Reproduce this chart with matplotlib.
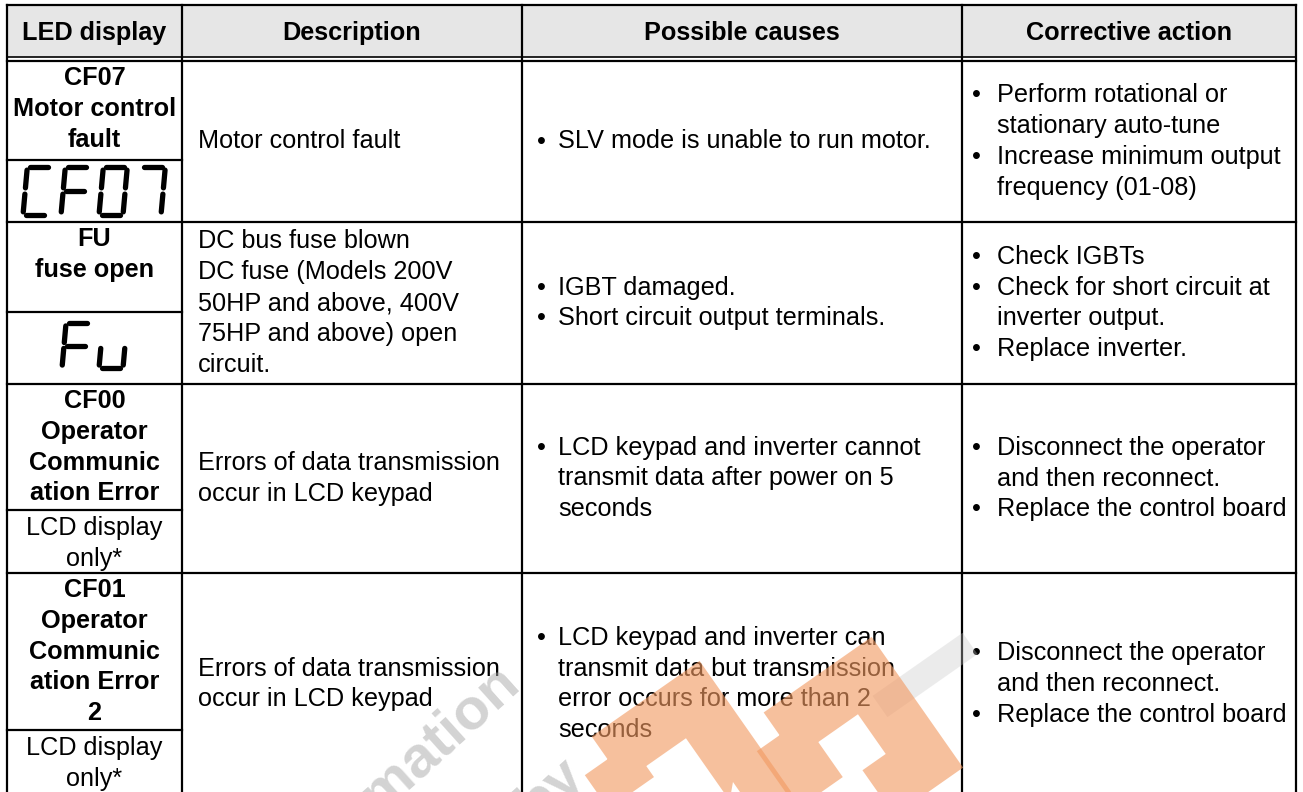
"""
Fault table: LED display / Description / Possible causes / Corrective action
drawn as a table on a pixel-sized axes
"""
import matplotlib.pyplot as plt
from matplotlib.patches import Rectangle
import matplotlib.transforms as mtransforms

plt.rcParams['font.family'] = ['Liberation Sans', 'DejaVu Sans']

# ----- table contents -----
headers = ["LED display", "Description", "Possible causes", "Corrective action"]

led_labels = [
    ["CF07", "Motor control", "fault"],
    ["FU", "fuse open"],
    ["CF00", "Operator", "Communic", "ation Error"],
    ["CF01", "Operator", "Communic", "ation Error", "2"],
]
led_lower = [None, None, ["LCD display", "only*"], ["LCD display", "only*"]]
seg_codes = ["CF07", "Fu", None, None]

descriptions = [
    ["Motor control fault"],
    ["DC bus fuse blown", "DC fuse (Models 200V", "50HP and above, 400V",
     "75HP and above) open", "circuit."],
    ["Errors of data transmission", "occur in LCD keypad"],
    ["Errors of data transmission", "occur in LCD keypad"],
]
causes = [
    [["SLV mode is unable to run motor."]],
    [["IGBT damaged."], ["Short circuit output terminals."]],
    [["LCD keypad and inverter cannot", "transmit data after power on 5", "seconds"]],
    [["LCD keypad and inverter can", "transmit data but transmission",
      "error occurs for more than 2", "seconds"]],
]
actions = [
    [["Perform rotational or", "stationary auto-tune"],
     ["Increase minimum output", "frequency (01-08)"]],
    [["Check IGBTs"], ["Check for short circuit at", "inverter output."],
     ["Replace inverter."]],
    [["Disconnect the operator", "and then reconnect."], ["Replace the control board"]],
    [["Disconnect the operator", "and then reconnect."], ["Replace the control board"]],
]

# ----- layout (pixels) -----
W, H = 1303, 792
col_x = [7, 182, 522, 962, 1296]
row_y = [61, 222, 384, 573, 795]
split_y = [160, 312, 510, 730]
top_y, head_y = 5, 57
lh = 30.8
fs = 18.2
lw_grid = 1.6

fig = plt.figure(figsize=(W / 100, H / 100), dpi=100)
ax = fig.add_axes([0, 0, 1, 1])
ax.set_xlim(0, W)
ax.set_ylim(H, 0)
ax.axis("off")

# header
ax.add_patch(Rectangle((col_x[0], top_y), col_x[-1] - col_x[0], head_y - top_y,
                       facecolor="#e6e6e6", edgecolor="none", zorder=0))
for i, h in enumerate(headers):
    ax.text((col_x[i] + col_x[i + 1]) / 2, (top_y + head_y) / 2 + 2, h,
            ha="center", va="center", fontsize=fs, fontweight="bold", zorder=3)

# grid lines
ax.plot([col_x[0], col_x[-1]], [top_y, top_y], color="black", lw=lw_grid)
ax.plot([col_x[0], col_x[-1]], [head_y, head_y], color="black", lw=1.2)
for y in row_y[:-1]:
    ax.plot([col_x[0], col_x[-1]], [y, y], color="black", lw=lw_grid)
for x in col_x:
    ax.plot([x, x], [top_y, H + 5], color="black", lw=lw_grid)
for y in split_y:
    ax.plot([col_x[0], col_x[1]], [y, y], color="black", lw=lw_grid)

# ----- seven segment glyphs -----
SEGS = {'a': ((0, 0), (1, 0)), 'b': ((1, 0), (1, .5)), 'c': ((1, .5), (1, 1)),
        'd': ((0, 1), (1, 1)), 'e': ((0, .5), (0, 1)), 'f': ((0, 0), (0, .5)),
        'g': ((0, .5), (1, .5))}
CHARS = {'C': 'adef', 'F': 'aefg', '0': 'abcdef', '7': 'abc', 'u': 'cde'}


def seven_seg(code, x0, y0, w, h, pitch, slant=0.09, lw=3.8):
    for k, ch in enumerate(code):
        for s in CHARS[ch]:
            (u1, v1), (u2, v2) = SEGS[s]
            du, dv = u2 - u1, v2 - v1
            g = 0.13
            pts = [(u1 + du * g, v1 + dv * g), (u2 - du * g, v2 - dv * g)]
            xs = [x0 + k * pitch + u * w + slant * (1 - v) * h for u, v in pts]
            ys = [y0 + v * h for u, v in pts]
            ax.plot(xs, ys, color="black", lw=lw, solid_capstyle="round", zorder=3)


# ----- cell text -----
def lines_block(x, yc, lines, **kw):
    y0 = yc - (len(lines) - 1) * lh / 2
    for j, t in enumerate(lines):
        ax.text(x, y0 + j * lh, t, va="center", fontsize=fs, zorder=3, **kw)


def bullet_block(xb, xt, yc, items):
    n = sum(len(it) for it in items)
    y = yc - (n - 1) * lh / 2
    for it in items:
        ax.text(xb, y, "\u2022", va="center", fontsize=fs, zorder=3)
        for t in it:
            ax.text(xt, y, t, va="center", fontsize=fs, zorder=3)
            y += lh


for r in range(len(led_labels)):
    ytop, ybot = row_y[r], row_y[r + 1]
    yc = (ytop + ybot) / 2
    xc1 = (col_x[0] + col_x[1]) / 2
    for j, t in enumerate(led_labels[r]):
        ax.text(xc1, ytop + 17 + j * lh, t, ha="center", va="center",
                fontsize=fs, fontweight="bold", zorder=3)
    if led_lower[r]:
        for j, t in enumerate(led_lower[r]):
            ax.text(xc1, split_y[r] + 18 + j * lh, t, ha="center", va="center",
                    fontsize=fs, zorder=3)
    lines_block(col_x[1] + 16, yc, descriptions[r])
    bullet_block(col_x[2] + 15, col_x[2] + 36, yc, causes[r])
    bullet_block(col_x[3] + 10, col_x[3] + 35, yc, actions[r])

seven_seg(seg_codes[0], 23, split_y[0] + 7, 24, 48, 38)
seven_seg(seg_codes[1], 62, split_y[1] + 11, 24, 45, 37)

# ----- watermark -----
ax.text(440, 738, "mation", rotation=42, fontsize=42, fontweight="bold",
        color="#a8a8a8", alpha=0.5, ha="center", va="center", zorder=4)
ax.text(550, 790, "by", rotation=42, fontsize=42, fontweight="bold",
        color="#a8a8a8", alpha=0.5, ha="center", va="center", zorder=4)
bar = mtransforms.Affine2D().rotate_deg_around(925, 675, -35) + ax.transData
ax.add_patch(Rectangle((870, 662), 110, 26, facecolor="#c8c8c8", edgecolor="none",
                       alpha=0.35, transform=bar, zorder=4))
for cx, cy in [(680, 772), (852, 748)]:
    tr = mtransforms.Affine2D().rotate_deg_around(cx, cy, -35) + ax.transData
    ax.add_patch(Rectangle((cx - 52, cy - 52), 104, 104, fill=False,
                           edgecolor="#f29a62", lw=40, alpha=0.62,
                           transform=tr, zorder=4))

fig.savefig("out.png", dpi=100)
